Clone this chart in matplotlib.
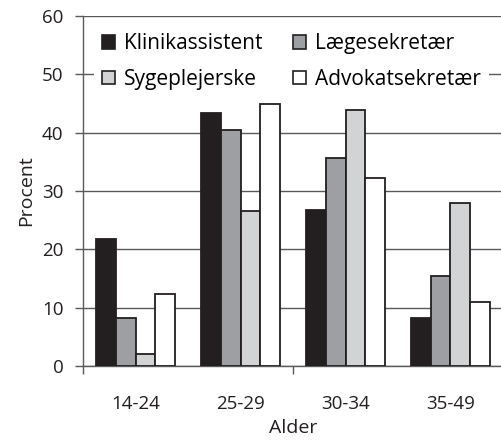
import numpy as np
import matplotlib
matplotlib.use('Agg')
import matplotlib.pyplot as plt
from matplotlib.patches import Patch

plt.rcParams['font.family'] = ['Open Sans', 'DejaVu Sans']

ages = ['14-24', '25-29', '30-34', '35-49']
series = ['Klinikassistent', 'Lægesekretær', 'Sygeplejerske', 'Advokatsekretær']
klinik = [21.8, 43.3, 26.8, 8.3]
laege = [8.3, 40.4, 35.7, 15.4]
syge = [2.0, 26.5, 43.9, 27.9]
advokat = [12.4, 44.9, 32.2, 11.0]

values = [klinik, laege, syge, advokat]
colors = ['#231f20', '#9d9fa2', '#d1d3d4', '#ffffff']

fig = plt.figure(figsize=(5.01, 4.41), dpi=100)
ax = fig.add_axes([83/501, 75/441, 420/501, 350/441])

x = np.arange(len(ages))
w = 0.1875
for i, (vals, c) in enumerate(zip(values, colors)):
    ax.bar(x + (i - 1.5) * w, vals, w, color=c, edgecolor='#231f20',
           linewidth=1.3, zorder=3)

ax.set_xlim(-0.5, 3.5)
ax.set_ylim(0, 60)
ax.set_yticks(range(0, 61, 10))
ax.yaxis.grid(True, color='#58595b', linewidth=1.0, zorder=0)
ax.set_axisbelow(True)

for s in ['top', 'right']:
    ax.spines[s].set_visible(False)
ax.spines['left'].set_color('#58595b')
ax.spines['bottom'].set_color('#58595b')
ax.spines['left'].set_linewidth(1.0)
ax.spines['bottom'].set_linewidth(1.0)

ax.set_xticks(x)
ax.set_xticklabels(ages)
ax.set_xticks([-0.5, 1.5], minor=True)
ax.tick_params(axis='x', which='major', length=0, pad=21, labelsize=13.5,
               colors='#231f20')
ax.tick_params(axis='x', which='minor', length=6, color='#58595b', width=1.0)
ax.tick_params(axis='y', length=6, color='#58595b', width=1.0, labelsize=13.5,
               labelcolor='#231f20', pad=8)

ax.set_xlabel('Alder', fontsize=14, color='#231f20', labelpad=4.5)
ax.set_ylabel('Procent', fontsize=14, color='#231f20', labelpad=5)

handles = [Patch(facecolor=c, edgecolor='#231f20', linewidth=1.2) for c in colors]
order = [0, 2, 1, 3]
leg = ax.legend([handles[i] for i in order], [series[i] for i in order],
                ncol=2, loc='upper left', bbox_to_anchor=(0.026, 0.975),
                frameon=True, fancybox=False, framealpha=1, edgecolor='none',
                facecolor='white', fontsize=15, handlelength=0.62,
                handleheight=0.62, handletextpad=0.4, columnspacing=1.5,
                labelspacing=0.7, borderpad=0.4, borderaxespad=0)
leg.set_zorder(5)

fig.savefig('out.png', dpi=100)
